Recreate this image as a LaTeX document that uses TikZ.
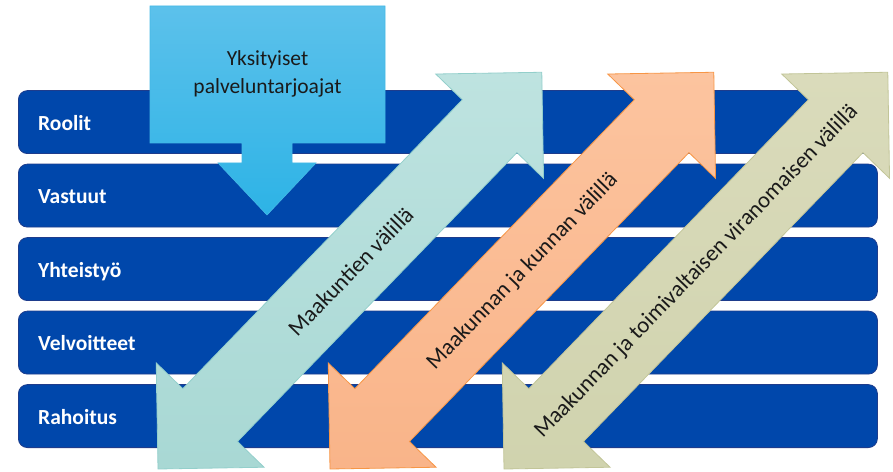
\documentclass[tikz,border=0pt]{standalone}
\usepackage{fontspec}
\setmainfont{Carlito}
\definecolor{barblue}{HTML}{0047AB}
\definecolor{barline}{HTML}{1E3C8C}
\definecolor{calltop}{HTML}{5CC1EB}
\definecolor{callbot}{HTML}{2DB3E6}
\definecolor{callline}{HTML}{45B9E6}
\definecolor{tealtop}{HTML}{BEE3E0}
\definecolor{tealbot}{HTML}{A8D8D4}
\definecolor{tealline}{HTML}{93CFCB}
\definecolor{orgtop}{HTML}{FCC49F}
\definecolor{orgbot}{HTML}{F9B489}
\definecolor{orgline}{HTML}{F79646}
\definecolor{khtop}{HTML}{DADBBB}
\definecolor{khbot}{HTML}{D0D3AE}
\definecolor{khline}{HTML}{C2C598}
\definecolor{txtdark}{HTML}{1A1A1A}
\begin{document}
\begin{tikzpicture}[x=1pt,y=1pt,
  bar/.style={draw=barline, line width=0.8pt, fill=barblue, rounded corners=9pt,
    minimum width=859pt, minimum height=63pt, anchor=south west, inner sep=0pt},
  barlabel/.style={anchor=base west, inner sep=0pt, text=white,
    font=\fontsize{21.5}{25}\selectfont\bfseries},
  arrowlabel/.style={inner sep=0pt, text=txtdark,
    font=\fontsize{22.8}{26}\selectfont, rotate=45.95},
  dblarrow/.pic={\path[pic actions] (0,0) -- (75,75) -- (75,38) -- (477,38) -- (477,75)
    -- (552,0) -- (477,-75) -- (477,-38) -- (75,-38) -- (75,-75) -- cycle;},
]
\useasboundingbox (0,0) rectangle (893,471);
\foreach \i/\y/\t in {1/317/Roolit, 2/243.5/Vastuut, 3/170/Yhteistyö, 4/96.5/Velvoitteet, 5/23/Rahoitus} {
  \node[bar] (b\i) at (18,\y) {};
  \node[barlabel] (l\i) at ([xshift=20pt,yshift=-8pt]b\i.west) {\t};
}
% callout
\path[draw=callline, line width=0.6pt, top color=calltop, bottom color=callbot]
  (150,465) -- (385,465) -- (385,328) -- (292,328) -- (292,308) -- (316,308)
  -- (267,256) -- (218,308) -- (242,308) -- (242,328) -- (150,328) -- cycle;
\node[align=center, inner sep=0pt, text=txtdark, font=\fontsize{21.5}{28}\selectfont]
  (callout) at (267.5,397) {Yksityiset\\palveluntarjoajat};
% diagonal double arrows
\pic[draw=tealline, line width=0.8pt, top color=tealtop, bottom color=tealbot, rotate=45.95] at (158,2) {dblarrow};
\pic[draw=orgline, line width=0.8pt, top color=orgtop, bottom color=orgbot, rotate=45.95] at (330,2) {dblarrow};
\pic[draw=khline, line width=0.8pt, top color=khtop, bottom color=khbot, rotate=45.95] at (504,2) {dblarrow};
\node[arrowlabel] (t1) at (350.5,199.5) {Maakuntien välillä};
\node[arrowlabel] (t2) at (522.5,199.5) {Maakunnan ja kunnan välillä};
\node[arrowlabel] (t3) at (696.5,199.5) {Maakunnan ja toimivaltaisen viranomaisen välillä};
\end{tikzpicture}
\end{document}
